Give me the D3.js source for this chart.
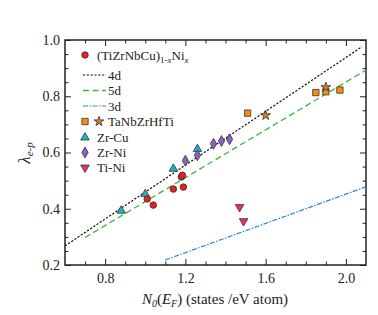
<!DOCTYPE html>
<html lang="en">
<head>
<meta charset="utf-8">
<title>lambda vs N0(EF)</title>
<script src="https://d3js.org/d3.v7.min.js"></script>
<style type="text/css">
  body { margin: 0; background: #fff; }
</style>
</head>
<body>
<div id="chart"></div>
<script>
// (TiZrNbCu)1-xNix
const hxN = [1.01, 1.04, 1.14, 1.19, 1.18, 1.185];
const hxL = [0.435, 0.413, 0.47, 0.477, 0.513, 0.519];
// TaNbZrHfTi squares and stars
const taSqN = [1.51, 1.85, 1.90, 1.97];
const taSqL = [0.740, 0.813, 0.816, 0.822];
const taStN = [1.60, 1.90];
const taStL = [0.732, 0.832];
// Zr-Cu
const zrCuN = [0.88, 1.00, 1.14, 1.26];
const zrCuL = [0.393, 0.452, 0.542, 0.612];
// Zr-Ni
const zrNiN = [1.20, 1.26, 1.34, 1.38, 1.42];
const zrNiL = [0.571, 0.590, 0.631, 0.641, 0.647];
// Ti-Ni
const tiNiN = [1.47, 1.49];
const tiNiL = [0.406, 0.356];
// trend lines (end points)
const line4dN = [0.60, 2.08], line4dL = [0.268, 0.976];
const line5dN = [0.70, 2.10], line5dL = [0.298, 0.893];
const line3dN = [1.10, 2.10], line3dL = [0.218, 0.478];

const xMajor = [0.8, 1.2, 1.6, 2.0];
const yMajor = [0.2, 0.4, 0.6, 0.8, 1.0];

const FONT = '"Liberation Serif", "Times New Roman", Times, "DejaVu Serif", serif';
const width = 378, height = 315;
const m = {left: 65, right: 12, top: 40, bottom: 50};

const svg = d3.select("#chart").append("svg")
  .attr("width", width).attr("height", height)
  .style("font-family", FONT);

const x = d3.scaleLinear().domain([0.6, 2.1]).range([m.left, width - m.right]);
const y = d3.scaleLinear().domain([0.2, 1.0]).range([height - m.bottom, m.top]);

const xMinor = d3.range(7, 21).map(d => d / 10).filter(d => !xMajor.some(v => Math.abs(v - d) < 1e-6));
const yMinor = d3.range(4, 20).map(d => d / 20).filter(d => !yMajor.some(v => Math.abs(v - d) < 1e-6));

function styleAxis(g) {
  g.attr("font-family", null);
  g.select(".domain").remove();
  g.selectAll("line").attr("stroke", "#222").attr("stroke-width", 1);
  g.selectAll("text").style("font-size", "14px").attr("fill", "#222");
}

const fmt = d3.format(".1f");
const bottom = height - m.bottom, right = width - m.right;

svg.append("g").attr("transform", `translate(0,${bottom})`)
  .call(d3.axisBottom(x).tickValues(xMajor).tickSize(-6).tickPadding(8).tickFormat(fmt)).call(styleAxis);
svg.append("g").attr("transform", `translate(0,${bottom})`)
  .call(d3.axisBottom(x).tickValues(xMinor).tickSize(-3.5).tickFormat("")).call(styleAxis);
svg.append("g").attr("transform", `translate(0,${m.top})`)
  .call(d3.axisTop(x).tickValues(xMajor).tickSize(-6).tickFormat("")).call(styleAxis);
svg.append("g").attr("transform", `translate(0,${m.top})`)
  .call(d3.axisTop(x).tickValues(xMinor).tickSize(-3.5).tickFormat("")).call(styleAxis);

svg.append("g").attr("transform", `translate(${m.left},0)`)
  .call(d3.axisLeft(y).tickValues(yMajor).tickSize(-6).tickPadding(5).tickFormat(fmt)).call(styleAxis);
svg.append("g").attr("transform", `translate(${m.left},0)`)
  .call(d3.axisLeft(y).tickValues(yMinor).tickSize(-3.5).tickFormat("")).call(styleAxis);
svg.append("g").attr("transform", `translate(${right},0)`)
  .call(d3.axisRight(y).tickValues(yMajor).tickSize(-6).tickFormat("")).call(styleAxis);
svg.append("g").attr("transform", `translate(${right},0)`)
  .call(d3.axisRight(y).tickValues(yMinor).tickSize(-3.5).tickFormat("")).call(styleAxis);

svg.append("rect")
  .attr("x", m.left).attr("y", m.top)
  .attr("width", right - m.left).attr("height", bottom - m.top)
  .attr("fill", "none").attr("stroke", "#222").attr("stroke-width", 1.5);

// trend lines
const lineGen = d3.line().x(d => x(d[0])).y(d => y(d[1]));
const fits = [
  {n: line4dN, l: line4dL, color: "#111", dash: "2.2,1.6", w: 1.2},
  {n: line5dN, l: line5dL, color: "#3cb43c", dash: "6,3.5", w: 1.3},
  {n: line3dN, l: line3dL, color: "#2b88d8", dash: "5,1.5,1.5,1.5", w: 1.2}
];
fits.forEach(f => {
  svg.append("path")
    .datum(d3.zip(f.n, f.l))
    .attr("d", lineGen)
    .attr("fill", "none").attr("stroke", f.color)
    .attr("stroke-width", f.w).attr("stroke-dasharray", f.dash);
});

// point series
const series = [
  {n: zrCuN, l: zrCuL, type: d3.symbolTriangle, size: 32, fill: "#1fb3c6", rot: 0},
  {n: zrNiN, l: zrNiL, type: d3.symbolDiamond, size: 34, fill: "#915fc2", rot: 0},
  {n: tiNiN, l: tiNiL, type: d3.symbolTriangle, size: 32, fill: "#ee2a7b", rot: 180},
  {n: hxN, l: hxL, type: d3.symbolCircle, size: 34, fill: "#e0231f", rot: 0},
  {n: taSqN, l: taSqL, type: d3.symbolSquare, size: 40, fill: "#ff8a10", rot: 0},
  {n: taStN, l: taStL, type: d3.symbolStar, size: 30, fill: "#d97a1c", rot: 0}
];
series.forEach(s => {
  svg.append("g").selectAll("path")
    .data(d3.zip(s.n, s.l))
    .join("path")
    .attr("d", d3.symbol().type(s.type).size(s.size))
    .attr("transform", d => `translate(${x(d[0])},${y(d[1])}) rotate(${s.rot})`)
    .attr("fill", s.fill).attr("stroke", "#333").attr("stroke-width", 0.8);
});

// legend
const lg = svg.append("g");
const mk = (type, size, fill, rot, cx, cy) => lg.append("path")
  .attr("d", d3.symbol().type(type).size(size)())
  .attr("transform", `translate(${cx},${cy}) rotate(${rot})`)
  .attr("fill", fill).attr("stroke", "#333").attr("stroke-width", 0.8);
const label = (tx, ty) => lg.append("text").attr("x", tx).attr("y", ty)
  .attr("dy", "0.35em").attr("fill", "#222").style("font-size", "13px");

mk(d3.symbolCircle, 34, "#e0231f", 0, 85, 55);
const t1 = label(97, 55);
t1.append("tspan").text("(TiZrNbCu)");
t1.append("tspan").attr("dy", 3).style("font-size", "9px").text("1-");
t1.append("tspan").style("font-size", "9px").style("font-style", "italic").text("x");
t1.append("tspan").attr("dy", -3).text("Ni");
t1.append("tspan").attr("dy", 3).style("font-size", "9px").style("font-style", "italic").text("x");

const legLines = [["4d", 75], ["5d", 90.5], ["3d", 106]];
legLines.forEach((d, i) => {
  lg.append("line").attr("x1", 83).attr("x2", 106).attr("y1", d[1]).attr("y2", d[1])
    .attr("stroke", fits[i].color).attr("stroke-width", fits[i].w)
    .attr("stroke-dasharray", fits[i].dash);
  label(108, d[1]).text(d[0]);
});

mk(d3.symbolSquare, 40, "#ff8a10", 0, 85, 121.5);
mk(d3.symbolStar, 30, "#d97a1c", 0, 99, 121.5);
label(108, 121.5).text("TaNbZrHfTi");
mk(d3.symbolTriangle, 32, "#1fb3c6", 0, 85, 137.5);
label(97, 137.5).text("Zr-Cu");
mk(d3.symbolDiamond, 34, "#915fc2", 0, 85, 152.5);
label(97, 152.5).text("Zr-Ni");
mk(d3.symbolTriangle, 32, "#ee2a7b", 180, 85, 167.5);
label(97, 167.5).text("Ti-Ni");

// axis titles
const xt = svg.append("text").attr("x", 215).attr("y", 304).attr("fill", "#222")
  .attr("text-anchor", "middle").style("font-size", "15px");
xt.append("tspan").style("font-style", "italic").text("N");
xt.append("tspan").attr("dy", 3).style("font-size", "10px").style("font-style", "italic").text("0");
xt.append("tspan").attr("dy", -3).text("(");
xt.append("tspan").style("font-style", "italic").text("E");
xt.append("tspan").attr("dy", 3).style("font-size", "10px").style("font-style", "italic").text("F");
xt.append("tspan").attr("dy", -3).text(") (states /eV atom)");

const yt = svg.append("text").attr("fill", "#222")
  .attr("transform", "translate(30,153) rotate(-90)")
  .attr("text-anchor", "middle").style("font-size", "17px");
yt.append("tspan").style("font-style", "italic").text("λ");
yt.append("tspan").attr("dy", 3).style("font-size", "11px").style("font-style", "italic").text("e-p");
</script>
</body>
</html>
